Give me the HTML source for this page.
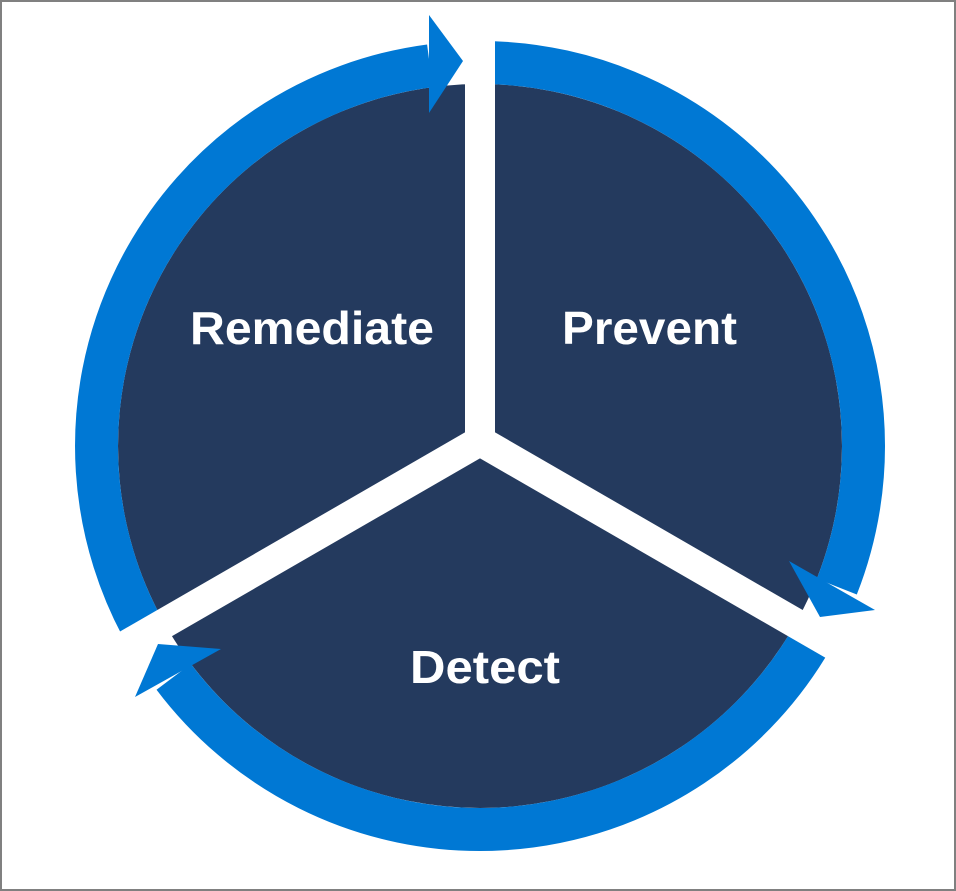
<!DOCTYPE html>
<html><head><meta charset="utf-8"><style>
html,body{margin:0;padding:0;background:#fff}
svg{display:block}
</style></head><body>
<svg width="956" height="891" viewBox="0 0 956 891" xmlns="http://www.w3.org/2000/svg">
<rect x="1" y="1" width="954" height="889" fill="#fff" stroke="#808080" stroke-width="2"/>
<circle cx="480" cy="446" r="362" fill="#243A5E"/>
<g fill="none" stroke="#0078D4" stroke-width="43">
<path d="M480,62.5 A383.5,383.5 0 0 1 836.8,586.6"/>
<path d="M812.1,637.75 A383.5,383.5 0 0 1 173.7,676.8"/>
<path d="M147.9,637.75 A383.5,383.5 0 0 1 429.9,65.8"/>
</g>
<g stroke="#fff" stroke-width="30" fill="none">
<line x1="480" y1="441" x2="480" y2="30"/>
<line x1="480" y1="441" x2="913" y2="691"/>
<line x1="480" y1="441" x2="47" y2="691"/>
</g>
<polygon points="465,430 495,430 480,458" fill="#fff"/>
<g fill="#0078D4">
<polygon points="429,15 463,61 429,113"/>
<polygon points="789,561 875,610 820,617"/>
<polygon points="221,649 158,644 135,697"/>
</g>
<g fill="#fff" font-family="'Liberation Sans', sans-serif" font-weight="bold" font-size="46">
<text x="190" y="344" textLength="244" lengthAdjust="spacingAndGlyphs">Remediate</text>
<text x="562" y="344" textLength="175" lengthAdjust="spacingAndGlyphs">Prevent</text>
<text x="410" y="683" textLength="150" lengthAdjust="spacingAndGlyphs">Detect</text>
</g>
</svg>
</body></html>
